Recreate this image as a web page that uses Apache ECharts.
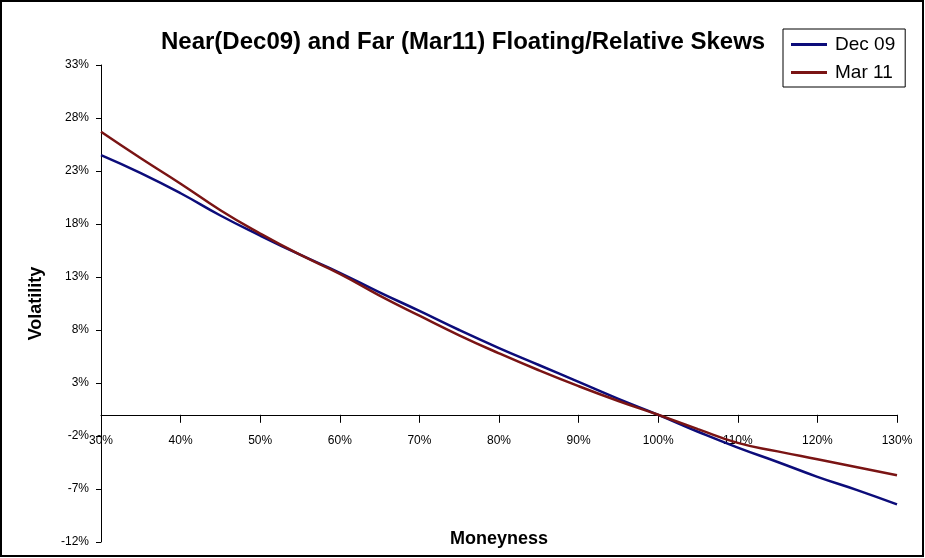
<!DOCTYPE html>
<html>
<head>
<meta charset="utf-8">
<script src="https://cdn.jsdelivr.net/npm/echarts@6/dist/echarts.min.js"></script>
<style>
html,body{margin:0;padding:0;background:#fff;}
#chart{width:925px;height:558px;}
</style>
</head>
<body>
<div id="chart"></div>
<script>
const moneyness = [30,35,40,45,50,55,60,65,70,75,80,85,90,95,100,105,110,115,120,125,130];
const dec09 = [24.5,22.8,20.9,18.8,16.9,15.1,13.4,11.55,9.8,8.0,6.3,4.7,3.1,1.5,0.0,-1.6,-3.1,-4.45,-5.85,-7.1,-8.45];
const mar11 = [26.7,24.2,21.8,19.3,17.1,15.1,13.3,11.25,9.35,7.5,5.8,4.2,2.7,1.3,0.0,-1.35,-2.65,-3.45,-4.2,-4.95,-5.7];
const seriesNames = ['Dec 09','Mar 11'];
const titleText = 'Near(Dec09) and Far (Mar11) Floating/Relative Skews';

const font = '"Liberation Sans", Arial, sans-serif';
const chart = echarts.init(document.getElementById('chart'));
chart.setOption({
  animation: false,
  backgroundColor: '#fff',
  title: {
    text: titleText,
    left: 161, top: 30,
    padding: 0,
    textStyle: {fontFamily: font, fontSize: 24, fontWeight: 'bold', color: '#000'}
  },
  legend: {
    orient: 'vertical',
    left: 783, top: 29,
    padding: [6, 10, 5, 8],
    itemGap: 9,
    itemWidth: 36, itemHeight: 3,
    borderColor: '#000', borderWidth: 1,
    textStyle: {fontFamily: font, fontSize: 19, color: '#000', padding: [0,0,0,3]},
    data: [{name: seriesNames[0], icon: 'rect'}, {name: seriesNames[1], icon: 'rect'}]
  },
  grid: {left: 101, right: 28, top: 65, bottom: 16, outerBoundsMode: 'none', containLabel: false},
  xAxis: {
    type: 'value', min: 30, max: 130, interval: 10,
    name: 'Moneyness', nameLocation: 'middle', nameGap: -12,
    nameTextStyle: {fontFamily: font, fontSize: 18, fontWeight: 'bold', color: '#000'},
    axisLine: {onZero: true, lineStyle: {color: '#000', width: 1}},
    axisTick: {show: true, length: 8, lineStyle: {color: '#000'}},
    axisLabel: {margin: -107, formatter: v => v + '%', fontFamily: font, fontSize: 12, color: '#000'},
    splitLine: {show: false}
  },
  yAxis: {
    type: 'value', min: -12, max: 33, interval: 5,
    name: 'Volatility', nameLocation: 'middle', nameGap: 56,
    nameTextStyle: {fontFamily: font, fontSize: 18, fontWeight: 'bold', color: '#000'},
    axisLine: {show: true, lineStyle: {color: '#000', width: 1}},
    axisTick: {show: true, length: 5, lineStyle: {color: '#000'}},
    axisLabel: {margin: 12, formatter: v => v + '%', fontFamily: font, fontSize: 12, color: '#000'},
    splitLine: {show: false}
  },
  graphic: [{
    type: 'rect', silent: true,
    shape: {x: 1, y: 1, width: 922, height: 555},
    style: {fill: 'none', stroke: '#000', lineWidth: 2}
  }],
  series: [
    {name: seriesNames[0], type: 'line', smooth: true, symbol: 'none',
     lineStyle: {color: '#0c0c7a', width: 2.5}, itemStyle: {color: '#0c0c7a'},
     data: moneyness.map((m, i) => [m, dec09[i]])},
    {name: seriesNames[1], type: 'line', smooth: true, symbol: 'none',
     lineStyle: {color: '#7a1414', width: 2.5}, itemStyle: {color: '#7a1414'},
     data: moneyness.map((m, i) => [m, mar11[i]])}
  ]
});
</script>
</body>
</html>
